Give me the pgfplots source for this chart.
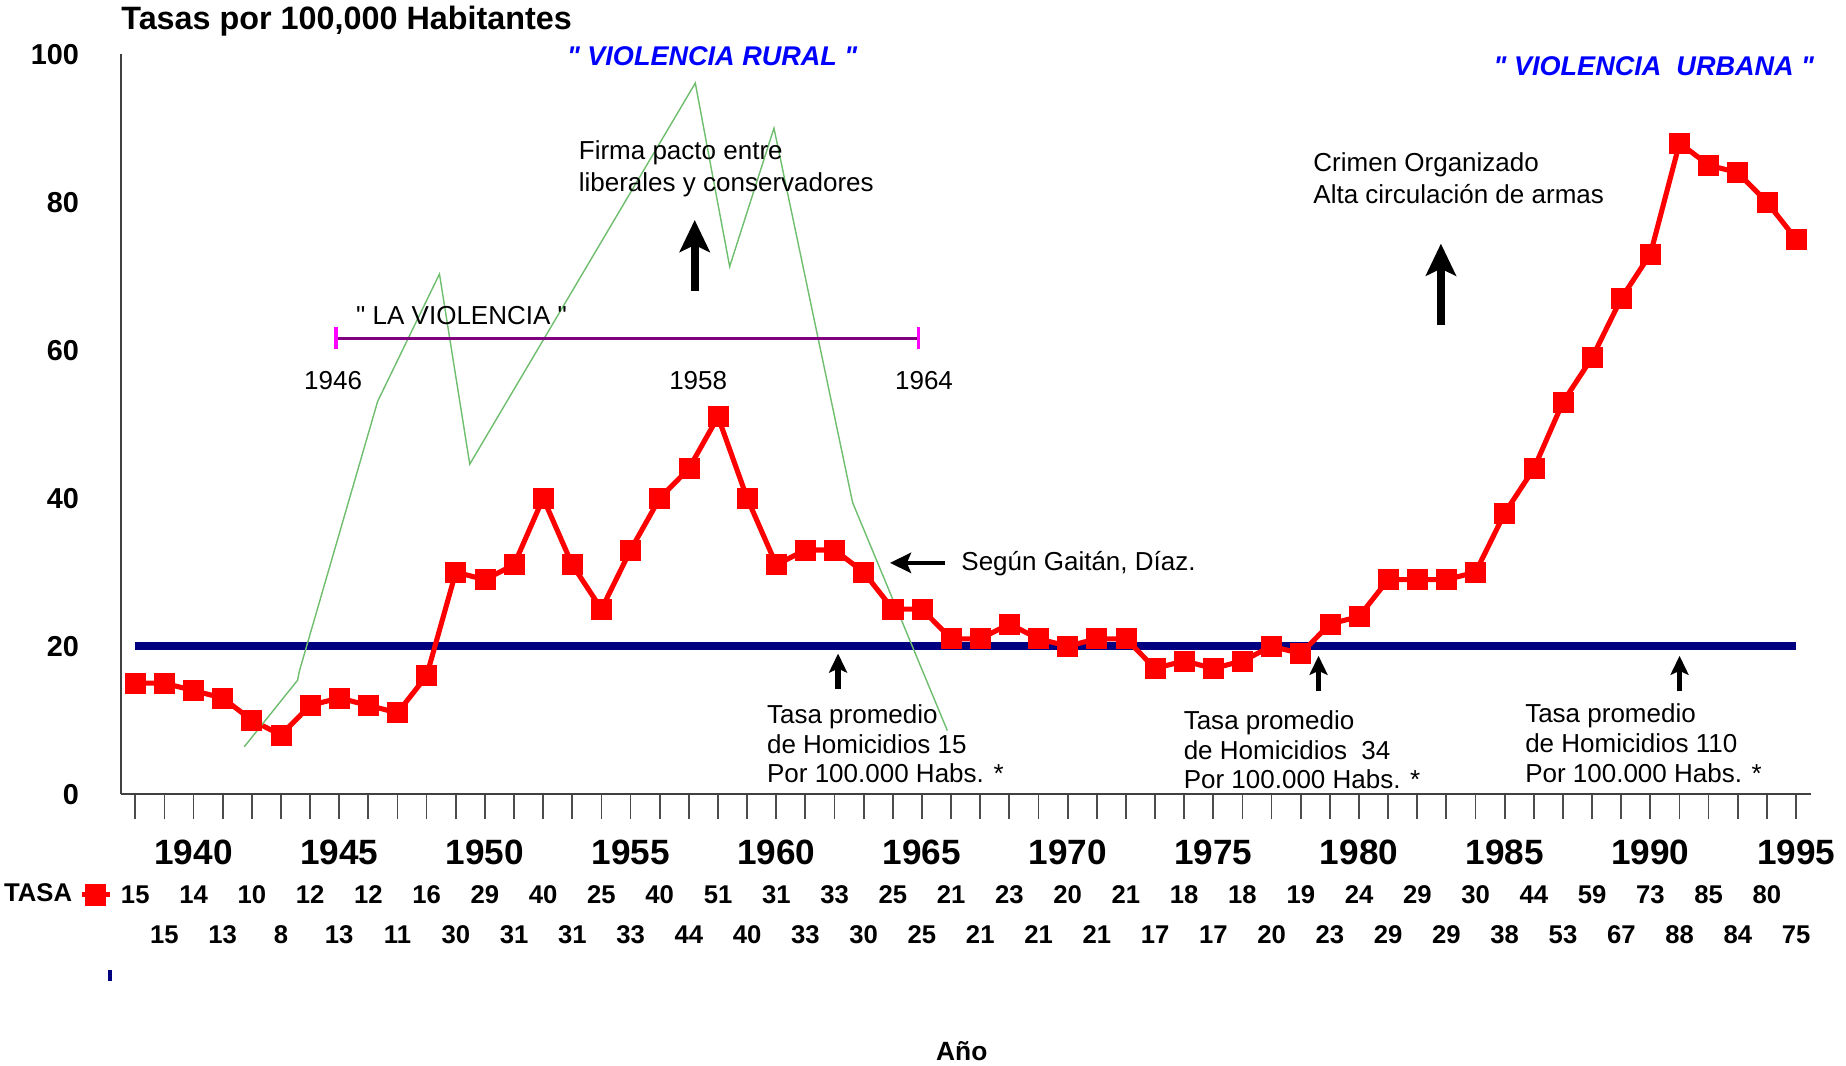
\documentclass[border=0pt]{standalone}
\usepackage{pgfplots}
\pgfplotsset{compat=1.18}
\usepackage{pgfplotstable}
\usetikzlibrary{arrows.meta}
\usepackage{fontspec}
\setmainfont{Liberation Sans}[Ligatures=TeXOff]
\definecolor{navyline}{RGB}{0,0,128}
\definecolor{rurgreen}{RGB}{110,190,110}
\definecolor{lvpurple}{RGB}{128,0,128}
\definecolor{lvmag}{RGB}{255,0,255}
\definecolor{txtblue}{RGB}{0,0,255}

\pgfplotstableread{
year rate
1938 15
1939 15
1940 14
1941 13
1942 10
1943 8
1944 12
1945 13
1946 12
1947 11
1948 16
1949 30
1950 29
1951 31
1952 40
1953 31
1954 25
1955 33
1956 40
1957 44
1958 51
1959 40
1960 31
1961 33
1962 33
1963 30
1964 25
1965 25
1966 21
1967 21
1968 23
1969 21
1970 20
1971 21
1972 21
1973 17
1974 18
1975 17
1976 18
1977 20
1978 19
1979 23
1980 24
1981 29
1982 29
1983 29
1984 30
1985 38
1986 44
1987 53
1988 59
1989 67
1990 73
1991 88
1992 85
1993 84
1994 80
1995 75
}\tasa

\pgfplotstableread{
x y
1941.74 6.4
1943.57 15.4
1943.63 16.6
1946.32 53.1
1948.44 70.3
1949.48 44.6
1957.22 96.1
1958.40 71.3
1959.92 90.0
1962.62 39.4
1965.87 8.6
}\gaitan

\begin{document}
\begin{tikzpicture}
\path[use as bounding box] (-1.207,-2.709) rectangle (17.253,7.942);
\begin{axis}[
  at={(0,0)}, anchor=south west,
  scale only axis, width=16.90cm, height=7.40cm,
  xmin=1937.5, xmax=1995.5, ymin=0, ymax=100,
  clip=false,
  axis lines*=left,
  axis line style={draw=black!75, line width=0.5pt},
  xtick={1940,1945,...,1995},
  minor xtick={1938,...,1995},
  xtick align=outside,
  major tick length=0.25cm, minor tick length=0.25cm,
  xtick style={draw=black!70, line width=0.5pt},
  minor tick style={draw=black!70, line width=0.5pt},
  ytick={0,20,...,100},
  ytick style={draw=none},
  /pgf/number format/assume math mode=true,
  /pgf/number format/1000 sep={},
  xticklabel style={font=\bfseries\fontsize{10}{12}\selectfont, anchor=center, yshift=-0.33cm, inner sep=0pt},
  yticklabel style={font=\bfseries\fontsize{8.2}{10}\selectfont, anchor=east, inner sep=0pt, xshift=-0.41cm},
  title={Tasas por 100,000 Habitantes},
  title style={at={(axis description cs:0,1.016)}, anchor=west, inner sep=0pt, font=\bfseries\fontsize{9.2}{11}\selectfont},
  xlabel={Año},
  xlabel style={at={(axis description cs:0.4977,-0.3477)}, anchor=center, inner sep=0pt, font=\bfseries\fontsize{7.5}{9}\selectfont},
  legend plot pos=right,
  legend image code/.code={\draw[mark repeat=2, mark phase=2, #1] plot coordinates {(0cm,0cm) (0.14cm,0cm) (0.28cm,0cm)};},
  legend style={draw=none, fill=none, at={(axis description cs:-0.0046,-0.136)}, anchor=east, inner sep=0pt, font=\bfseries\fontsize{7.3}{9}\selectfont},
]
% average line
\addplot[navyline, line width=2.3pt, mark=none, forget plot] coordinates {(1938,20) (1995,20)};
% main series
\addplot[red, line width=1.45pt, mark=square*, mark size=2.85pt, mark options={solid, fill=red, draw=red, line width=0.2pt}] table[x=year, y=rate]{\tasa};
\addlegendentry{TASA}
% Gaitan Diaz series
\addplot[rurgreen, line width=0.4pt, mark=none, forget plot] table[x=x, y=y]{\gaitan};

% data table rows (even years first row, odd years second row)
\addplot[draw=none, mark=none, forget plot, nodes near coords, point meta=explicit,
  nodes near coords style={font=\bfseries\fontsize{7.3}{9}\selectfont, anchor=center, yshift=-1.007cm, inner sep=0pt},
  x filter/.code={\ifodd\coordindex\def\pgfmathresult{}\fi}] table[x=year, y expr=0, meta=rate]{\tasa};
\addplot[draw=none, mark=none, forget plot, nodes near coords, point meta=explicit,
  nodes near coords style={font=\bfseries\fontsize{7.3}{9}\selectfont, anchor=center, yshift=-1.407cm, inner sep=0pt},
  x filter/.code={\ifodd\coordindex\else\def\pgfmathresult{}\fi}] table[x=year, y expr=0, meta=rate]{\tasa};

% small navy mark
\fill[navyline] (rel axis cs:-0.0074,-0.252) rectangle (rel axis cs:-0.0053,-0.237);

% La Violencia bracket
\draw[lvpurple, line width=1pt] (axis cs:1944.89,61.6) -- (axis cs:1964.88,61.6);
\draw[lvmag, line width=1pt] (axis cs:1944.89,60.1) -- (axis cs:1944.89,63.1);
\draw[lvmag, line width=1pt] (axis cs:1964.88,60.1) -- (axis cs:1964.88,63.1);
\node[anchor=west, inner sep=0pt, font=\fontsize{7.4}{9}\selectfont] at (axis cs:1945.56,64.67) {" LA VIOLENCIA "};
\node[inner sep=0pt, font=\fontsize{7.4}{9}\selectfont] at (axis cs:1944.79,55.92) {1946};
\node[inner sep=0pt, font=\fontsize{7.4}{9}\selectfont] at (axis cs:1957.32,55.92) {1958};
\node[inner sep=0pt, font=\fontsize{7.4}{9}\selectfont] at (axis cs:1965.07,55.92) {1964};

% blue headings
\node[txtblue, inner sep=0pt, font=\bfseries\itshape\fontsize{7.7}{9}\selectfont] at (axis cs:1957.80,99.7) {" VIOLENCIA RURAL "};
\node[txtblue, inner sep=0pt, font=\bfseries\itshape\fontsize{7.7}{9}\selectfont] at (axis cs:1990.12,98.4) {" VIOLENCIA\ \ URBANA "};

% Firma pacto
\node[anchor=west, align=left, inner sep=0pt, font=\fontsize{7.4}{9}\selectfont] at (axis cs:1953.20,84.48) {Firma pacto entre\\liberales y conservadores};
\draw[-{Stealth[length=0.32cm,width=0.30cm,inset=0.07cm]}, line width=2.3pt] (axis cs:1957.2,68.0) -- (axis cs:1957.2,77.6);

% Crimen organizado
\node[anchor=west, align=left, inner sep=0pt, font=\fontsize{7.4}{9}\selectfont] at (axis cs:1978.41,83.21) {Crimen Organizado\\Alta circulación de armas};
\draw[-{Stealth[length=0.32cm,width=0.30cm,inset=0.07cm]}, line width=2.3pt] (axis cs:1982.81,63.4) -- (axis cs:1982.81,74.4);

% Segun Gaitan
\node[anchor=west, inner sep=0pt, font=\fontsize{7.4}{9}\selectfont] at (axis cs:1966.33,31.10) {Según Gaitán, Díaz.};
\draw[-{Stealth[length=0.21cm,width=0.20cm,inset=0.04cm]}, line width=1.3pt] (axis cs:1965.80,31.26) -- (axis cs:1963.90,31.26);

% Tasa promedio notes
\node[anchor=west, align=left, inner sep=0pt, font=\fontsize{7.4}{8.5}\selectfont] at (axis cs:1959.66,6.81) {Tasa promedio\\de Homicidios 15\\Por 100.000 Habs. *};
\draw[-{Stealth[length=0.19cm,width=0.18cm,inset=0.04cm]}, line width=1.6pt] (axis cs:1962.12,14.2) -- (axis cs:1962.12,19.0);
\node[anchor=west, align=left, inner sep=0pt, font=\fontsize{7.4}{8.5}\selectfont] at (axis cs:1973.96,6.01) {Tasa promedio\\de Homicidios\ \ 34\\Por 100.000 Habs. *};
\draw[-{Stealth[length=0.19cm,width=0.18cm,inset=0.04cm]}, line width=1.6pt] (axis cs:1978.61,13.9) -- (axis cs:1978.61,18.7);
\node[anchor=west, align=left, inner sep=0pt, font=\fontsize{7.4}{8.5}\selectfont] at (axis cs:1985.68,6.87) {Tasa promedio\\de Homicidios 110\\Por 100.000 Habs. *};
\draw[-{Stealth[length=0.19cm,width=0.18cm,inset=0.04cm]}, line width=1.6pt] (axis cs:1991.00,13.9) -- (axis cs:1991.00,18.7);
\end{axis}
\end{tikzpicture}
\end{document}
